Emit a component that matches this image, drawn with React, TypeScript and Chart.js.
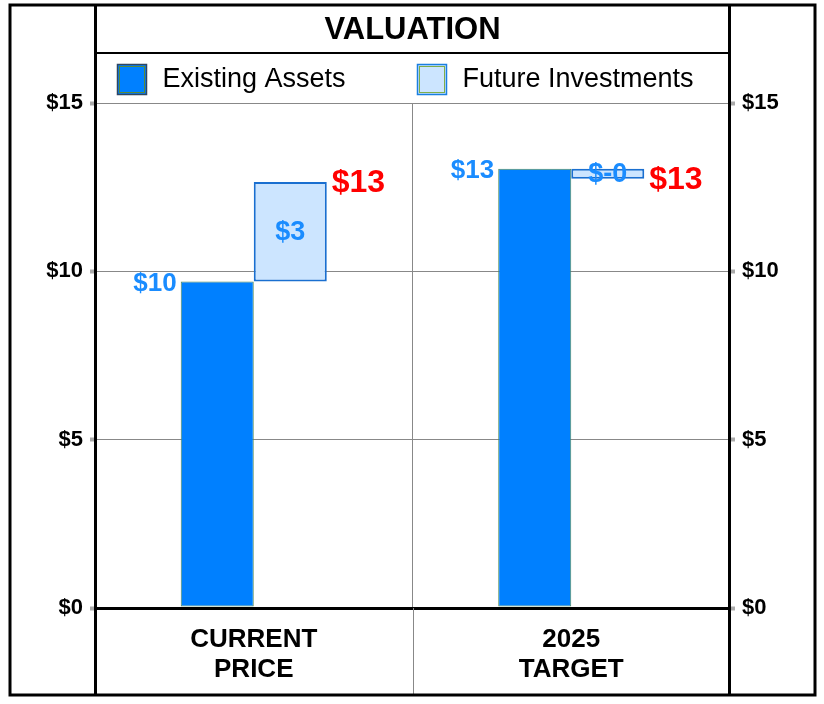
import { useEffect, useRef } from 'react';
import { Chart, registerables } from 'chart.js';

Chart.register(...registerables);

const categories: string[][] = [['CURRENT', 'PRICE'], ['2025', 'TARGET']];
const existingAssets: number[] = [9.7, 13.05];
const futureInvestments: number[] = [2.95, -0.3];
const yTickValues: number[] = [0, 5, 10, 15];
const titleText = 'VALUATION';
const seriesNames: string[] = ['Existing Assets', 'Future Investments'];

const FONT = '"Liberation Sans", Arial, Helvetica, sans-serif';
const BLUE = '#0080ff';
const LIGHT = '#cce5ff';
const LABEL_BLUE = '#1a8cff';

const fmt = (v: number) => '$' + v.toFixed(0);

const framePlugin = {
  id: 'framePlugin',
  afterDatasetsDraw(chart: any) {
    const ctx = chart.ctx as CanvasRenderingContext2D;
    const yScale = chart.scales.y;
    const m0 = chart.getDatasetMeta(0);
    const m1 = chart.getDatasetMeta(1);
    ctx.save();
    ctx.textBaseline = 'middle';
    m0.data.forEach((el: any, i: number) => {
      const top = Math.min(el.y, el.base);
      ctx.font = `bold 26px ${FONT}`;
      ctx.fillStyle = LABEL_BLUE;
      ctx.textAlign = 'right';
      ctx.fillText(fmt(existingAssets[i]), el.x - el.width / 2 - 4, top + 2);
    });
    m1.data.forEach((el: any, i: number) => {
      const total = existingAssets[i] + futureInvestments[i];
      const yStart = yScale.getPixelForValue(existingAssets[i]);
      const yEnd = yScale.getPixelForValue(total);
      ctx.font = `bold 27px ${FONT}`;
      ctx.fillStyle = LABEL_BLUE;
      ctx.textAlign = 'center';
      ctx.fillText(fmt(futureInvestments[i]), el.x, (yStart + yEnd) / 2 + 1);
      ctx.font = `bold 32px ${FONT}`;
      ctx.fillStyle = '#ff0000';
      ctx.textAlign = 'left';
      ctx.fillText(fmt(total), el.x + el.width / 2 + 5, yEnd + 1);
    });
    ctx.restore();
  },
  afterDraw(chart: any) {
    const ctx = chart.ctx as CanvasRenderingContext2D;
    const { left, right, bottom } = chart.chartArea;
    const mid = (left + right) / 2;
    const outerL = 10;
    const outerR = 815;
    const outerT = 5;
    const outerB = 695;
    ctx.save();
    // separator extension below plot
    ctx.strokeStyle = '#888';
    ctx.lineWidth = 1;
    ctx.beginPath();
    ctx.moveTo(Math.round(mid) + 0.5, bottom);
    ctx.lineTo(Math.round(mid) + 0.5, outerB);
    ctx.stroke();
    // frame
    ctx.strokeStyle = '#000';
    ctx.lineWidth = 3;
    ctx.strokeRect(outerL, outerT, outerR - outerL, outerB - outerT);
    ctx.beginPath();
    ctx.moveTo(left + 0.5, outerT);
    ctx.lineTo(left + 0.5, outerB);
    ctx.moveTo(right - 0.5, outerT);
    ctx.lineTo(right - 0.5, outerB);
    ctx.stroke();
    ctx.lineWidth = 2;
    ctx.beginPath();
    ctx.moveTo(left, 53);
    ctx.lineTo(right, 53);
    ctx.stroke();
    // title
    ctx.fillStyle = '#000';
    ctx.font = `bold 31px ${FONT}`;
    ctx.textAlign = 'center';
    ctx.textBaseline = 'middle';
    ctx.fillText(titleText, mid, 30);
    // legend
    const items = [
      { x: left + 22, fill: BLUE, outer: '#2f4660', inner: '#5a8a3a' },
      { x: mid + 4.5, fill: LIGHT, outer: '#1a7fe0', inner: '#7fae4a' },
    ];
    items.forEach((it, i) => {
      const bx = Math.round(it.x) + 0.5;
      const by = 64.5;
      ctx.fillStyle = it.fill;
      ctx.fillRect(bx, by, 29, 30);
      ctx.lineWidth = 1.5;
      ctx.strokeStyle = it.outer;
      ctx.strokeRect(bx, by, 29, 30);
      ctx.lineWidth = 1;
      ctx.strokeStyle = it.inner;
      ctx.strokeRect(bx + 2, by + 2, 25, 26);
      ctx.fillStyle = '#000';
      ctx.font = `27px ${FONT}`;
      ctx.textAlign = 'left';
      ctx.textBaseline = 'middle';
      ctx.fillText(seriesNames[i], bx + 45, 80);
    });
    ctx.restore();
  },
};

export default function App() {
  const ref = useRef<HTMLCanvasElement | null>(null);
  useEffect(() => {
    if (!ref.current) return;
    const chart = new Chart(ref.current, {
      type: 'bar',
      data: {
        labels: categories as any,
        datasets: [
          {
            label: seriesNames[0],
            data: existingAssets.map((v) => [0, v]) as any,
            backgroundColor: BLUE,
            borderColor: '#4f8a55',
            borderWidth: 1,
            borderSkipped: false,
            categoryPercentage: 0.46,
            barPercentage: 1,
          },
          {
            label: seriesNames[1],
            data: futureInvestments.map((v, i) => [existingAssets[i], existingAssets[i] + v]) as any,
            backgroundColor: LIGHT,
            borderColor: '#1a6fd0',
            borderWidth: 2,
            borderSkipped: false,
            categoryPercentage: 0.46,
            barPercentage: 1,
          },
        ],
      },
      options: {
        animation: false,
        responsive: false,
        devicePixelRatio: 1,
        layout: { padding: { top: 103, left: 0, right: 0, bottom: 0 } },
        plugins: {
          legend: { display: false },
          title: { display: false },
          tooltip: { enabled: false },
        },
        scales: {
          x: {
            offset: true,
            border: { display: false },
            grid: { offset: true, color: '#888', lineWidth: 1, drawTicks: false },
            ticks: {
              color: '#000',
              font: { family: FONT, size: 26, weight: 'bold', lineHeight: 1.15 },
              padding: 17,
              maxRotation: 0,
            },
            afterFit: (s: any) => {
              s.height = 96;
            },
          },
          y: {
            position: 'left',
            min: 0,
            max: 15,
            border: { display: false },
            afterBuildTicks: (s: any) => {
              s.ticks = yTickValues.map((v) => ({ value: v }));
            },
            ticks: {
              color: '#000',
              font: { family: FONT, size: 22, weight: 'bold' },
              padding: 7,
              callback: (v: any) => '$' + v,
            },
            grid: {
              color: (c: any) => (c.tick && c.tick.value === 0 ? '#000' : '#888'),
              lineWidth: (c: any) => (c.tick && c.tick.value === 0 ? 3 : 1),
              tickLength: 5,
              tickColor: '#aaa',
              tickWidth: 4,
            },
            afterFit: (s: any) => {
              s.width = 95;
            },
          },
          y2: {
            type: 'linear',
            display: true,
            position: 'right',
            min: 0,
            max: 15,
            border: { display: false },
            afterBuildTicks: (s: any) => {
              s.ticks = yTickValues.map((v) => ({ value: v }));
            },
            ticks: {
              color: '#000',
              font: { family: FONT, size: 22, weight: 'bold' },
              padding: 7,
              callback: (v: any) => '$' + v,
            },
            grid: {
              drawOnChartArea: false,
              tickLength: 5,
              tickColor: '#aaa',
              tickWidth: 4,
            },
            afterFit: (s: any) => {
              s.width = 94;
            },
          },
        },
      } as any,
      plugins: [framePlugin],
    });
    return () => chart.destroy();
  }, []);
  return (
    <div style={{ position: 'fixed', left: 0, top: 0, width: 824, height: 704, background: '#fff' }}>
      <canvas ref={ref} width={824} height={704} style={{ width: 824, height: 704, display: 'block' }} />
    </div>
  );
}
